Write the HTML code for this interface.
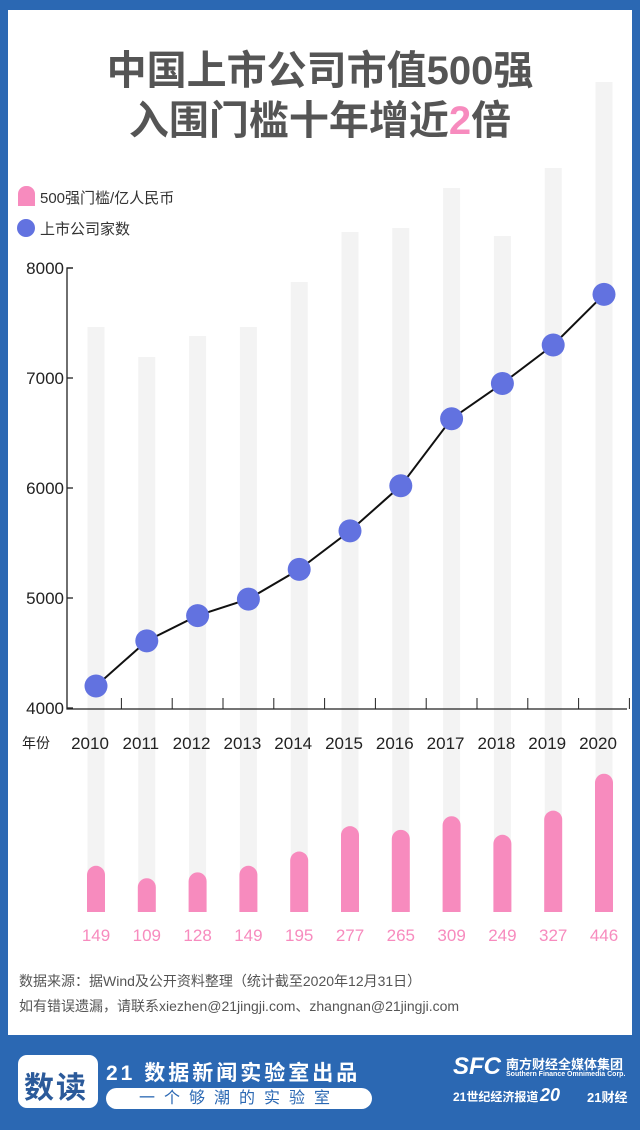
<!DOCTYPE html>
<html><head><meta charset="utf-8">
<style>
html,body{margin:0;padding:0;}
body{width:640px;height:1130px;background:#2b68b3;position:relative;overflow:hidden;font-family:"Liberation Sans","Noto Sans CJK SC",sans-serif;}
#panel{position:absolute;left:8px;top:10px;width:624px;height:1025px;background:#fff;}
.t{position:absolute;white-space:nowrap;}
</style></head>
<body>
<div id="panel"></div>
<div class="t" style="left:0;width:640px;top:46px;text-align:center;font-size:40px;font-weight:bold;color:#555;line-height:50px;">中国上市公司市值500强<br>入围门槛十年增近<span style="color:#f78bbe">2</span>倍</div>
<div style="position:absolute;left:18px;top:186px;width:17px;height:20px;background:#f78bbe;border-radius:8px 8px 0 0;"></div>
<div class="t" style="left:40px;top:187px;font-size:15px;color:#333;">500强门槛/亿人民币</div>
<div style="position:absolute;left:17px;top:219px;width:18px;height:18px;background:#6272e0;border-radius:50%;"></div>
<div class="t" style="left:40px;top:218px;font-size:15px;color:#333;">上市公司家数</div>

<svg id="chart" width="640" height="960" style="position:absolute;left:0;top:0;"></svg>

<div class="t" style="left:19px;top:971px;font-size:14px;color:#555;">数据来源：据Wind及公开资料整理（统计截至2020年12月31日）</div>
<div class="t" style="left:19px;top:996px;font-size:14px;color:#555;">如有错误遗漏，请联系xiezhen@21jingji.com、zhangnan@21jingji.com</div>

<div style="position:absolute;left:18px;top:1055px;width:80px;height:53px;background:#fff;border-radius:9px;"><div class="t" style="left:6px;top:8px;font-size:30px;font-weight:bold;color:#2b5a9a;letter-spacing:2px;">数读</div></div>
<div class="t" style="left:106px;top:1057px;font-size:21px;font-weight:bold;color:#fff;letter-spacing:3px;">21 数据新闻实验室出品</div>
<div class="t" style="left:106px;top:1088px;width:266px;height:21px;background:#fff;border-radius:11px;color:#2b68b3;font-size:16px;line-height:21px;text-align:center;letter-spacing:9px;">一个够潮的实验室</div>
<div class="t" style="left:453px;top:1053px;font-size:24px;font-weight:bold;color:#fff;font-style:italic;">SFC</div>
<div class="t" style="left:506px;top:1054px;font-size:13px;font-weight:bold;color:#fff;">南方财经全媒体集团</div>
<div class="t" style="left:506px;top:1071px;font-size:7px;font-weight:bold;color:#fff;">Southern Finance Omnimedia Corp.</div>
<div class="t" style="left:453px;top:1088px;font-size:12px;font-weight:bold;color:#fff;">21世纪经济报道</div>
<div class="t" style="left:540px;top:1085px;font-size:18px;font-weight:bold;color:#fff;font-style:italic;">20</div>
<div class="t" style="left:587px;top:1087px;font-size:13px;font-weight:bold;color:#fff;">21财经</div>

<script>
const years = ['2010','2011','2012','2013','2014','2015','2016','2017','2018','2019','2020'];
const companies = [4200,4610,4840,4990,5260,5610,6020,6630,6950,7300,7760];
const threshold = [149,109,128,149,195,277,265,309,249,327,446];
const yTicks = [4000,5000,6000,7000,8000];
const decoTops = [327,357,336,327,282,232,228,188,236,168,82];

const svg = document.getElementById('chart');
const NS = 'http://www.w3.org/2000/svg';
const x = i => 96 + i * 50.8;
const y = v => 708 - (v - 4000) * 0.11;
const barBase = 912;
const hb = v => v * 0.31;
function mk(tag, attrs){const e=document.createElementNS(NS,tag);for(const k in attrs)e.setAttribute(k,attrs[k]);svg.appendChild(e);return e;}

years.forEach((yr,i)=>{
  const g = mk('rect',{x:x(i)-8.5,y:decoTops[i],width:17,height:barBase-decoTops[i],fill:'#f3f3f3'});
  
  
});
const ax = mk('path',{d:'M73 268 H67 V709 H627',fill:'none',stroke:'#222','stroke-width':1.3});


yTicks.forEach(t=>{
  const tk = mk('line',{x1:67,x2:73,y1:y(t),y2:y(t),stroke:'#222','stroke-width':1.3});
  
  
  const tl = mk('text',{x:64,y:y(t)+6,'text-anchor':'end','font-size':17,fill:'#222'});
  tl.textContent=t;
  
  
});
years.forEach((yr,i)=>{
  const tx = x(i)+25.4;
  const tk = mk('line',{x1:tx,x2:tx,y1:698,y2:709,stroke:'#222','stroke-width':1});
  
  
  const tl = mk('text',{x:x(i)-6,y:749,'text-anchor':'middle','font-size':17,fill:'#222'});
  tl.textContent=yr;
  
  
});
const xt = mk('text',{x:22,y:748,'font-size':14,fill:'#222'});
xt.textContent='年份';


const line = mk('polyline',{points:companies.map((v,i)=>x(i)+','+y(v)).join(' '),fill:'none',stroke:'#111','stroke-width':2});


companies.forEach((v,i)=>{
  const c = mk('circle',{cx:x(i),cy:y(v),r:11.5,fill:'#6272e0'});
  
  
});
threshold.forEach((v,i)=>{
  const h=hb(v), w=18, l=x(i)-9, t=barBase-h;
  const b = mk('path',{d:`M${l} ${barBase} V${t+9} A9 9 0 0 1 ${l+w} ${t+9} V${barBase} Z`,fill:'#f78bbe'});
  
  
  const tl = mk('text',{x:x(i),y:941,'text-anchor':'middle','font-size':17,fill:'#f78bbe'});
  tl.textContent=v;
  
  
});
</script>
</body></html>
